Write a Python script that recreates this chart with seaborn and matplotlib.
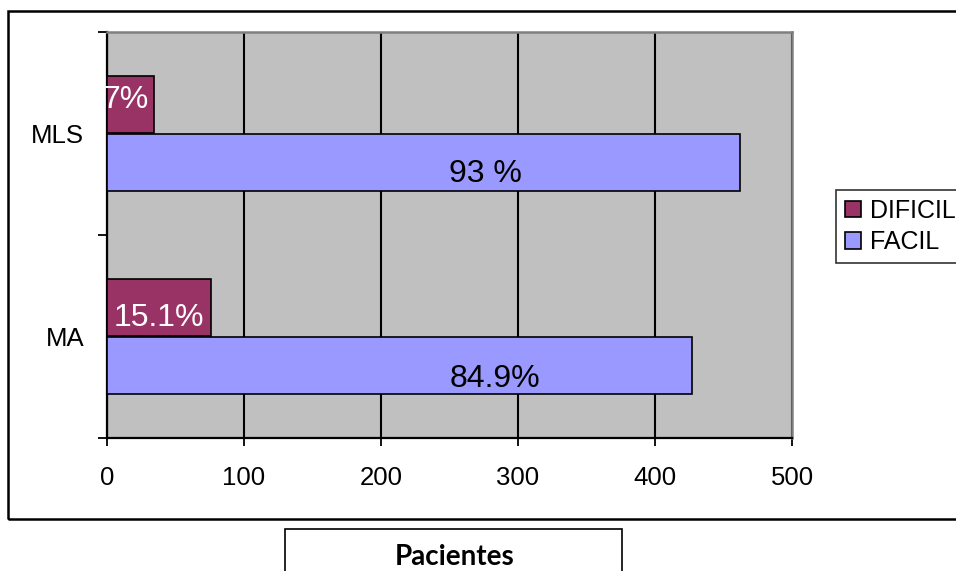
import matplotlib
matplotlib.use("Agg")
import matplotlib.pyplot as plt
from matplotlib.patches import Rectangle
from matplotlib.ticker import FixedLocator
import pandas as pd
import seaborn as sns

# Patients by procedure and difficulty
procedures = ["MLS", "MA"]
levels = ["DIFICIL", "FACIL"]
dificil = [34, 76]
facil = [462, 427]
dificil_labels = ["7%", "15.1%"]
facil_labels = ["93 %", "84.9%"]
x_ticks = [0, 100, 200, 300, 400, 500]
axis_title = "Pacientes"

colors = {"DIFICIL": "#993366", "FACIL": "#9999FF"}

df = pd.DataFrame({
    "Procedimiento": procedures * 2,
    "Dificultad": [levels[0]] * len(procedures) + [levels[1]] * len(procedures),
    "Pacientes": dificil + facil,
})

plt.rcParams["font.family"] = ["Liberation Sans", "DejaVu Sans"]

W, H = 956, 571
fig = plt.figure(figsize=(W / 100, H / 100), dpi=100)
fig.patch.set_facecolor("white")

# outer chart frame
fig.add_artist(Rectangle((8 / W, 1 - 519 / H), 1.0, (519 - 11) / H,
                         transform=fig.transFigure, fill=False,
                         edgecolor="black", linewidth=1.8, clip_on=False))

ax = fig.add_axes([107 / W, 1 - 438 / H, (792 - 107) / W, (438 - 32) / H])
ax.set_facecolor("#C0C0C0")

sns.barplot(data=df, y="Procedimiento", x="Pacientes", hue="Dificultad",
            order=procedures, hue_order=levels, palette=colors,
            orient="h", width=0.57, edgecolor="black", linewidth=1.2,
            saturation=1, ax=ax, zorder=3)

ax.set_xlim(0, 500)
ax.set_ylim(1.5, -0.5)
ax.set_xticks(x_ticks)
ax.set_xticklabels([str(t) for t in x_ticks], fontsize=18.5)
ax.grid(axis="x", color="black", linewidth=1.5, zorder=1)
ax.set_axisbelow(True)
ax.tick_params(axis="x", length=6, width=1.3, pad=14, color="black")

ax.set_yticks(range(len(procedures)))
ax.set_yticklabels(procedures, fontsize=18.5)
ax.tick_params(axis="y", which="major", length=0, pad=16.5)
ax.yaxis.set_minor_locator(FixedLocator([-0.5, 0.5, 1.5]))
ax.tick_params(axis="y", which="minor", length=6.5, width=1.3, color="black")
ax.set_xlabel("")
ax.set_ylabel("")

for side in ("left", "bottom"):
    ax.spines[side].set_color("black")
    ax.spines[side].set_linewidth(1.6)
for side in ("top", "right"):
    ax.spines[side].set_color("#808080")
    ax.spines[side].set_linewidth(1.8)

# value labels, nudged from each bar's centre (offsets in points)
offsets = {0: [(-3.6, 3.2), (0.0, -7.2)], 1: [(44.6, -8.6), (68.4, -10.1)]}
texts = {0: dificil_labels, 1: facil_labels}
text_colors = {0: "white", 1: "black"}
for ci, container in enumerate(ax.containers):
    for bi, bar in enumerate(container):
        cx = bar.get_x() + bar.get_width() / 2
        cy = bar.get_y() + bar.get_height() / 2
        ax.annotate(texts[ci][bi], (cx, cy), xytext=offsets[ci][bi],
                    textcoords="offset points", ha="center", va="center",
                    fontsize=23, color=text_colors[ci], zorder=5)

handles, labels = ax.get_legend_handles_labels()
ax.legend_.remove()
leg = fig.legend(handles, labels, loc="upper left",
                 bbox_to_anchor=(836 / W, 1 - 190 / H),
                 bbox_transform=fig.transFigure, fontsize=18,
                 frameon=True, fancybox=False, edgecolor="black",
                 handlelength=0.65, handleheight=0.65, handletextpad=0.35,
                 borderpad=0.35, labelspacing=0.3, borderaxespad=0)
leg.get_frame().set_linewidth(1.2)
for h in leg.legend_handles:
    h.set_edgecolor("black")
    h.set_linewidth(1.2)

# axis title box
fig.add_artist(Rectangle((285 / W, -0.05), (622 - 285) / W, 0.05 + (571 - 529) / H,
                         transform=fig.transFigure, fill=False,
                         edgecolor="black", linewidth=1.2, clip_on=False))
fig.text(455 / W, 1 / H, axis_title, ha="center", va="bottom",
         fontsize=20, fontweight="bold", family=["Lato", "DejaVu Sans"])

fig.savefig("out.png", dpi=100)
